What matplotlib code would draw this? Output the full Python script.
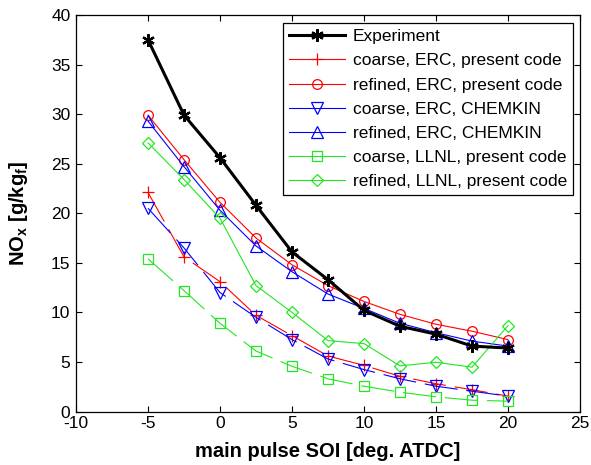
import matplotlib
matplotlib.use("Agg")
import matplotlib.pyplot as plt
import matplotlib.lines as mlines

plt.rcParams['font.family'] = ['Liberation Sans', 'DejaVu Sans']
plt.rcParams['mathtext.fontset'] = 'custom'
plt.rcParams['mathtext.rm'] = 'Liberation Sans'
plt.rcParams['mathtext.bf'] = 'Liberation Sans:bold'
plt.rcParams['axes.unicode_minus'] = False

soi = [-5, -2.5, 0, 2.5, 5, 7.5, 10, 12.5, 15, 17.5, 20]

experiment = [37.5, 29.9, 25.6, 20.8, 16.1, 13.3, 10.2, 8.6, 7.8, 6.6, 6.4]
coarse_erc_present = [22.1, 15.6, 13.1, 9.7, 7.65, 5.6, 4.65, 3.55, 2.8, 2.2, 1.55]
refined_erc_present = [29.9, 25.4, 21.1, 17.5, 14.8, 12.7, 11.1, 9.8, 8.8, 8.1, 7.25]
coarse_erc_chemkin = [20.5, 16.5, 12.0, 9.5, 7.25, 5.3, 4.23, 3.3, 2.55, 2.05, 1.55]
refined_erc_chemkin = [29.3, 24.7, 20.3, 16.7, 14.1, 11.85, 10.4, 8.9, 7.95, 7.1, 6.6]
coarse_llnl_present = [15.4, 12.2, 8.9, 6.1, 4.56, 3.3, 2.55, 1.95, 1.48, 1.14, 1.04]
refined_llnl_present = [27.1, 23.4, 19.5, 12.7, 10.0, 7.15, 6.85, 4.6, 4.97, 4.47, 8.66]

labels = ['Experiment', 'coarse, ERC, present code', 'refined, ERC, present code',
          'coarse, ERC, CHEMKIN', 'refined, ERC, CHEMKIN',
          'coarse, LLNL, present code', 'refined, LLNL, present code']

red = '#ff0000'
blue = '#0000ff'
green = '#22e622'

fig = plt.figure(figsize=(5.91, 4.65), dpi=100)
ax = fig.add_axes([76/591, 1-411.5/465, (580-76)/591, (411.5-15)/465])

dash = (0, (30, 8))
lw = 0.8
ms = 7

ax.plot(soi, experiment, color='black', lw=2.2, marker=(6, 2, 0), ms=9, mew=1.6, label=labels[0], zorder=5)
ax.plot(soi, coarse_erc_present, color=red, lw=lw, ls=dash, marker='+', ms=9, mew=0.9, label=labels[1])
ax.plot(soi, refined_erc_present, color=red, lw=lw, marker='o', ms=ms, mfc='none', mew=0.9, label=labels[2])
ax.plot(soi, coarse_erc_chemkin, color=blue, lw=lw, ls=dash, marker='v', ms=ms+1, mfc='none', mew=0.9, label=labels[3])
ax.plot(soi, refined_erc_chemkin, color=blue, lw=lw, marker='^', ms=ms+1, mfc='none', mew=0.9, label=labels[4])
ax.plot(soi, coarse_llnl_present, color=green, lw=lw, ls=dash, marker='s', ms=ms, mfc='none', mew=0.9, label=labels[5])
ax.plot(soi, refined_llnl_present, color=green, lw=lw, marker='D', ms=ms-1, mfc='none', mew=0.9, label=labels[6])

ax.set_xlim(-10, 25)
ax.set_ylim(0, 40)
ax.set_xticks(range(-10, 26, 5))
ax.set_yticks(range(0, 41, 5))
ax.tick_params(direction='in', top=True, right=True, labelsize=12.5, length=4, width=0.8)
ax.tick_params(axis='x', pad=3)
ax.tick_params(axis='y', pad=4)
for s in ax.spines.values():
    s.set_linewidth(0.9)

ax.set_xlabel('main pulse SOI [deg. ATDC]', fontsize=14.5, fontweight='bold')
ax.xaxis.set_label_coords(0.5, -0.078)
ax.set_ylabel(r'NO$_\mathbf{x}$ [g/kg$_\mathbf{f}$]', fontsize=14.5, fontweight='bold')
ax.yaxis.set_label_coords(-0.092, 0.5)

handles, labs = ax.get_legend_handles_labels()
leg_handles = []
for h in handles:
    nh = mlines.Line2D([], [], color=h.get_color(), lw=h.get_linewidth(), ls='-',
                       marker=h.get_marker(), ms=h.get_markersize(), mfc=h.get_markerfacecolor(),
                       mec=h.get_markeredgecolor(), mew=h.get_markeredgewidth())
    leg_handles.append(nh)
leg = fig.legend(leg_handles, labs, loc='upper right', bbox_to_anchor=(573/591, 1-23/465),
                 fontsize=12.5, frameon=True, fancybox=False, framealpha=1, edgecolor='black',
                 handlelength=3.2, handletextpad=0.45, labelspacing=0.52, borderpad=0.35,
                 borderaxespad=0, numpoints=1)
leg.get_frame().set_linewidth(0.9)

fig.savefig('out.png', dpi=100)
